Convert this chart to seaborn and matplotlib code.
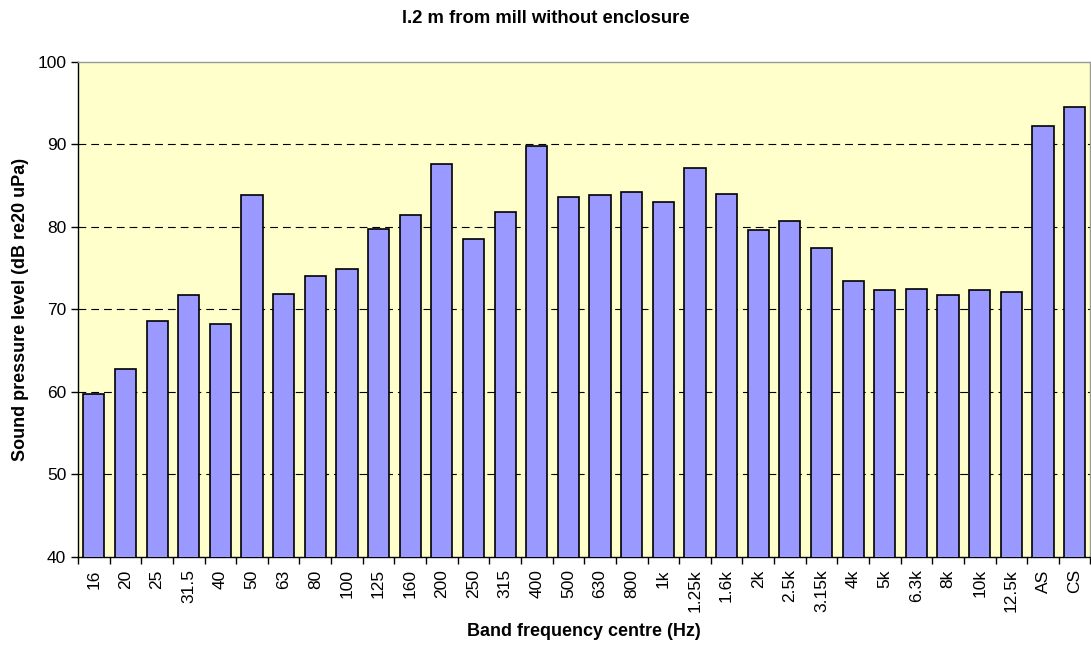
import numpy as np
import pandas as pd
import seaborn as sns
import matplotlib.pyplot as plt
from matplotlib.ticker import FixedLocator

bands = ['16', '20', '25', '31.5', '40', '50', '63', '80', '100', '125',
         '160', '200', '250', '315', '400', '500', '630', '800', '1k',
         '1.25k', '1.6k', '2k', '2.5k', '3.15k', '4k', '5k', '6.3k', '8k',
         '10k', '12.5k', 'AS', 'CS']
levels = [59.7, 62.8, 68.6, 71.7, 68.2, 83.9, 71.9, 74.0, 74.9, 79.8,
          81.5, 87.6, 78.5, 81.8, 89.8, 83.6, 83.9, 84.2, 83.0,
          87.2, 84.0, 79.6, 80.7, 77.4, 73.4, 72.3, 72.5, 71.8,
          72.3, 72.1, 92.3, 94.6]
y_ticks = [40, 50, 60, 70, 80, 90, 100]

title = 'l.2 m from mill without enclosure'
xlabel = 'Band frequency centre (Hz)'
ylabel = 'Sound pressure level (dB re20 uPa)'


def main():
    sns.set_style('white')
    plt.rcParams['font.family'] = ['Liberation Sans', 'DejaVu Sans']
    plt.rcParams['text.color'] = 'black'
    plt.rcParams['xtick.color'] = 'black'
    plt.rcParams['ytick.color'] = 'black'
    plt.rcParams['axes.labelcolor'] = 'black'

    df = pd.DataFrame({'band': bands, 'level': levels})

    fig = plt.figure(figsize=(10.91, 6.46), dpi=100)
    ax = fig.add_axes([0.0715, 0.138, 0.928, 0.766])
    ax.set_facecolor('#FFFFCC')

    # bars start from the 40 dB floor
    sns.barplot(data=df, x='band', y='level', color='#9999FF',
                saturation=1, width=0.67, edgecolor='black', linewidth=1.2,
                ax=ax, zorder=3)

    ax.set_ylim(40, 100)
    ax.set_xlim(-0.5, len(bands) - 0.5)
    ax.set_yticks(y_ticks)

    for y in y_ticks[1:-1]:
        ax.axhline(y, color='black', linestyle=(0, (7, 4.5)), linewidth=0.8,
                   zorder=1)

    ax.xaxis.set_minor_locator(FixedLocator(np.arange(-0.5, len(bands), 1)))
    ax.tick_params(axis='x', which='major', length=0, labelsize=12.5,
                   rotation=90, pad=9)
    ax.tick_params(axis='x', which='minor', length=5, width=1,
                   direction='out', color='black', bottom=True)
    ax.tick_params(axis='y', length=5, width=1, direction='out',
                   color='black', labelsize=12.5, left=True)

    for side in ['left', 'bottom']:
        ax.spines[side].set_color('black')
        ax.spines[side].set_linewidth(1)
    for side in ['top', 'right']:
        ax.spines[side].set_color('#999999')
        ax.spines[side].set_linewidth(1)

    ax.set_xlabel(xlabel, fontsize=13, fontweight='bold', labelpad=8)
    ax.set_ylabel(ylabel, fontsize=13, fontweight='bold', labelpad=6)
    fig.text(0.5, 0.972, title, ha='center', va='center', fontsize=13.3,
             fontweight='bold')

    fig.savefig('out.png', dpi=100)


if __name__ == '__main__':
    main()
